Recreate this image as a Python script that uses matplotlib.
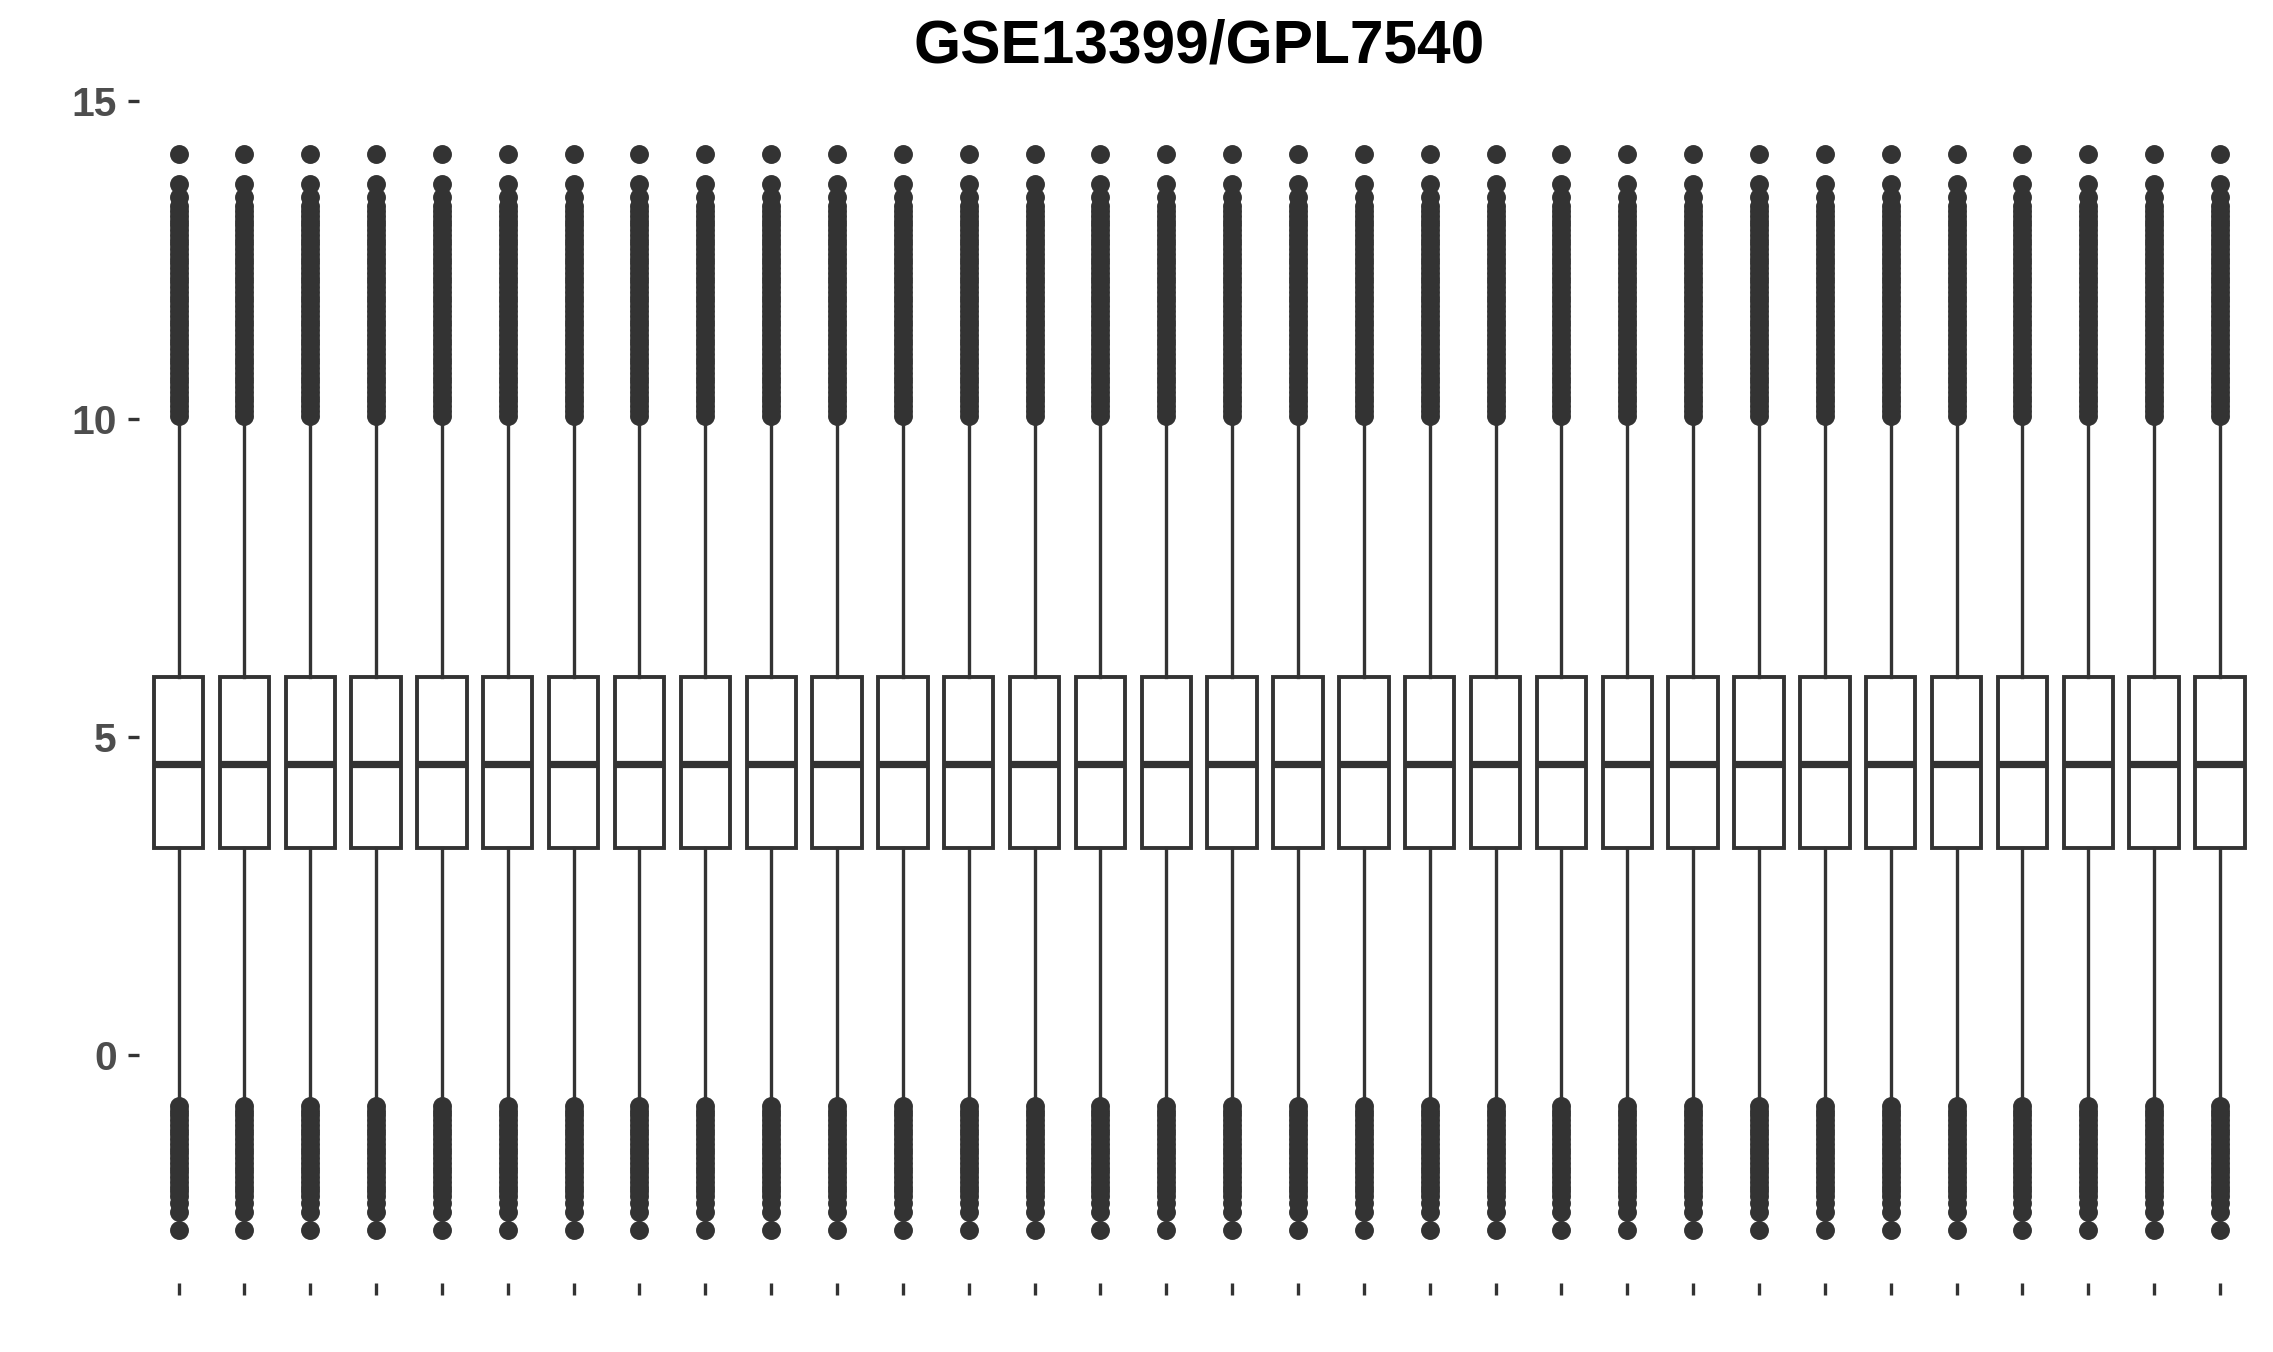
import matplotlib
matplotlib.use("Agg")
import matplotlib.pyplot as plt

# ---- data (quantile-normalised, all samples alike) ----
n_samples = 32
sample_labels = [""] * n_samples
q1 = [3.26, 3.26, 3.26, 3.26, 3.26, 3.26, 3.26, 3.26, 3.26, 3.26, 3.26, 3.26, 3.26, 3.26, 3.26, 3.26,
      3.26, 3.26, 3.26, 3.26, 3.26, 3.26, 3.26, 3.26, 3.26, 3.26, 3.26, 3.26, 3.26, 3.26, 3.26, 3.26]
med = [4.58, 4.58, 4.58, 4.58, 4.58, 4.58, 4.58, 4.58, 4.58, 4.58, 4.58, 4.58, 4.58, 4.58, 4.58, 4.58,
       4.58, 4.58, 4.58, 4.58, 4.58, 4.58, 4.58, 4.58, 4.58, 4.58, 4.58, 4.58, 4.58, 4.58, 4.58, 4.58]
q3 = [5.95, 5.95, 5.95, 5.95, 5.95, 5.95, 5.95, 5.95, 5.95, 5.95, 5.95, 5.95, 5.95, 5.95, 5.95, 5.95,
      5.95, 5.95, 5.95, 5.95, 5.95, 5.95, 5.95, 5.95, 5.95, 5.95, 5.95, 5.95, 5.95, 5.95, 5.95, 5.95]
whis_lo = [-0.76, -0.76, -0.76, -0.76, -0.76, -0.76, -0.76, -0.76, -0.76, -0.76, -0.76, -0.76, -0.76, -0.76, -0.76, -0.76,
           -0.76, -0.76, -0.76, -0.76, -0.76, -0.76, -0.76, -0.76, -0.76, -0.76, -0.76, -0.76, -0.76, -0.76, -0.76, -0.76]
whis_hi = [9.98, 9.98, 9.98, 9.98, 9.98, 9.98, 9.98, 9.98, 9.98, 9.98, 9.98, 9.98, 9.98, 9.98, 9.98, 9.98,
           9.98, 9.98, 9.98, 9.98, 9.98, 9.98, 9.98, 9.98, 9.98, 9.98, 9.98, 9.98, 9.98, 9.98, 9.98, 9.98]
# outlying values (same for every sample)
upper_outliers = [10.05, 10.12, 10.2, 10.28, 10.35, 10.42, 10.5, 10.58, 10.65, 10.72, 10.8, 10.88, 10.95,
                  11.02, 11.1, 11.18, 11.25, 11.32, 11.4, 11.48, 11.55, 11.62, 11.7, 11.78, 11.85, 11.92,
                  12.0, 12.08, 12.15, 12.22, 12.3, 12.38, 12.45, 12.52, 12.6, 12.68, 12.75, 12.82, 12.9,
                  12.98, 13.05, 13.12, 13.2, 13.27, 13.35, 13.50, 13.70, 14.17]
lower_outliers = [-0.80, -0.88, -0.95, -1.02, -1.1, -1.18, -1.25, -1.32, -1.4, -1.48, -1.55, -1.62,
                  -1.7, -1.78, -1.85, -1.92, -2.0, -2.08, -2.15, -2.22, -2.33, -2.47, -2.76]

title = "GSE13399/GPL7540"
y_ticks = [0, 5, 10, 15]

# ---- figure ----
DPI = 200
fig = plt.figure(figsize=(2273 / DPI, 1352 / DPI), dpi=DPI)
ax = fig.add_axes([139 / 2273, 1 - 1283 / 1352, (2259.5 - 139) / 2273, (1283 - 98) / 1352])

LC = "#333333"
stats = []
for i in range(n_samples):
    stats.append(dict(med=med[i], q1=q1[i], q3=q3[i], whislo=whis_lo[i], whishi=whis_hi[i],
                      fliers=upper_outliers + lower_outliers, label=sample_labels[i]))

positions = list(range(1, n_samples + 1))
ax.bxp(stats, positions=positions, widths=0.75, patch_artist=True, showcaps=False,
       boxprops=dict(facecolor="white", edgecolor=LC, linewidth=1.4),
       medianprops=dict(color=LC, linewidth=2.6, solid_capstyle="butt"),
       whiskerprops=dict(color=LC, linewidth=1.2),
       flierprops=dict(marker="o", markerfacecolor=LC, markeredgecolor=LC,
                       markersize=6.2, markeredgewidth=0.6, linestyle="none"))

ax.set_xlim(0.4, n_samples + 0.6)
ax.set_ylim(-3.59, 15.05)
ax.set_yticks(y_ticks)
ax.set_yticklabels([str(t) for t in y_ticks], fontsize=14.7, fontweight="bold",
                   color="#4D4D4D", family=["Liberation Sans", "DejaVu Sans"])
ax.set_xticks(positions)
ax.set_xticklabels(sample_labels)
ax.tick_params(axis="y", length=4.0, width=1.2, color=LC, pad=4)
ax.tick_params(axis="x", length=4.3, width=1.2, color=LC)
for s in ax.spines.values():
    s.set_visible(False)
ax.set_facecolor("white")

fig.text((139 + 2259.5) / 2 / 2273, 1 - 47 / 1352, title, ha="center", va="center",
         fontsize=21.8, fontweight="bold", color="black",
         family=["Liberation Sans", "DejaVu Sans"])

fig.savefig("out.png", dpi=DPI, facecolor="white")
